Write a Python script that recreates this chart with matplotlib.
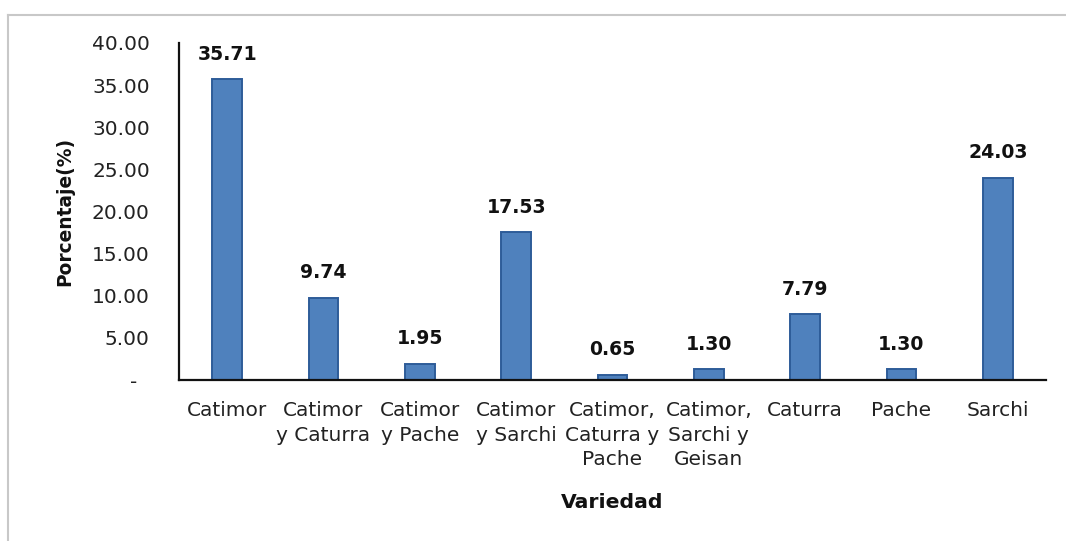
import matplotlib
matplotlib.use("Agg")
import matplotlib.pyplot as plt
from matplotlib.lines import Line2D

categories = ["Catimor", "Catimor\ny Caturra", "Catimor\ny Pache", "Catimor\ny Sarchi",
              "Catimor,\nCaturra y\nPache", "Catimor,\nSarchi y\nGeisan", "Caturra", "Pache", "Sarchi"]
values = [35.71, 9.74, 1.95, 17.53, 0.65, 1.30, 7.79, 1.30, 24.03]
yticks = [0, 5, 10, 15, 20, 25, 30, 35, 40]

plt.rcParams['font.family'] = ['DejaVu Sans']

W, H = 1066, 541
fig = plt.figure(figsize=(W / 100, H / 100), dpi=100)
ax = fig.add_axes([179 / W, 1 - 380 / H, (1046 - 179) / W, (380 - 43) / H])

x = list(range(len(categories)))
ax.bar(x, values, width=0.31, color="#4F81BD", edgecolor="#2E5C99", linewidth=1.4, zorder=2)

for xi, v in zip(x, values):
    ax.annotate(f"{v:.2f}", (xi, v), xytext=(0, 18), textcoords="offset points",
                ha="center", va="center", fontsize=13.6, fontweight="bold", color="#111111")

ax.set_xlim(-0.5, len(categories) - 0.5)
ax.set_ylim(0, 40)
ax.set_yticks(yticks)
ax.set_yticklabels(["-  " if t == 0 else f"{t:.2f}" for t in yticks])
ax.set_xticks(x)
ax.set_xticklabels(categories, linespacing=1.38, va="top")

ax.tick_params(axis="y", length=0, pad=21, labelsize=14.5, labelcolor="#222222")
ax.tick_params(axis="x", length=0, pad=15, labelsize=14.5, labelcolor="#222222")

for s in ["top", "right"]:
    ax.spines[s].set_visible(False)
for s in ["left", "bottom"]:
    ax.spines[s].set_linewidth(1.6)
    ax.spines[s].set_color("#111111")

ax.set_ylabel("Porcentaje(%)", fontsize=13.4, fontweight="bold", color="#111111")
ax.set_xlabel("Variedad", fontsize=14.7, fontweight="bold", color="#111111")
ax.yaxis.set_label_coords(-0.121, 0.5)
ax.xaxis.set_label_coords(0.5, -0.335)

# light grey frame (top and left edges visible)
fig.add_artist(Line2D([8 / W, 1.0], [1 - 15 / H, 1 - 15 / H], transform=fig.transFigure,
                      color="#C8C8C8", linewidth=1.5))
fig.add_artist(Line2D([8 / W, 8 / W], [1 - 15 / H, 0.0], transform=fig.transFigure,
                      color="#C8C8C8", linewidth=1.5))

fig.savefig("out.png", dpi=100, facecolor="white")
